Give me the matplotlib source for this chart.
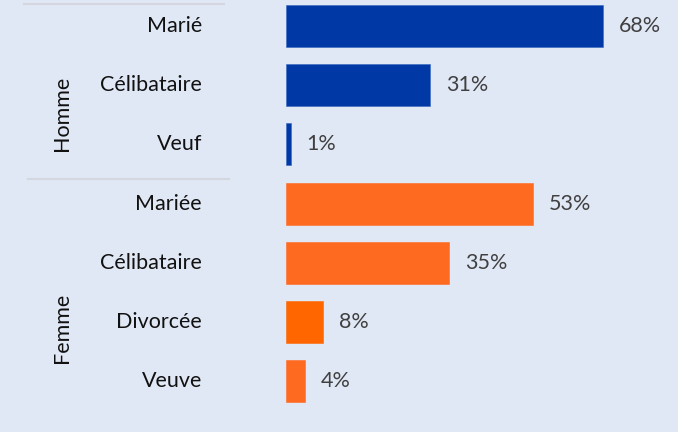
import numpy as np
import matplotlib.pyplot as plt
import matplotlib.transforms as mtransforms

plt.rcParams['font.family'] = ['Lato', 'DejaVu Sans']

categories = ['Marié', 'Célibataire', 'Veuf', 'Mariée', 'Célibataire', 'Divorcée', 'Veuve']
values = [68, 31, 1, 53, 35, 8, 4]
groups = ['Homme', 'Femme']
group_sizes = [3, 4]

blue = '#0039A6'
orange = '#FF6A21'
colors = [blue] * 3 + [orange, orange, '#FF6600', orange]
bg = '#E1E8F5'
fs = 15.5

W, H = 678, 432
fig = plt.figure(figsize=(W / 100, H / 100), dpi=100, facecolor=bg)
ax = fig.add_axes([286 / W, 0, 1 - 286 / W, 1], facecolor=bg)

y = np.arange(len(categories))
ax.barh(y, values, height=0.71, color=colors,
        edgecolor=[('#3565C0' if c == blue else c) for c in colors], linewidth=0.4)

# pixel row centres: 26 + 59.2 * i
ax.set_ylim((H - 26) / 59.2, -26 / 59.2)
ax.set_xlim(0, 392 / 4.66)
ax.axis('off')

for yi, v in zip(y, values):
    ax.annotate(f'{v}%', (v, yi), xytext=(16, 0), textcoords='offset pixels',
                ha='left', va='center', fontsize=fs, color='#404040')

tr = mtransforms.blended_transform_factory(fig.transFigure, ax.transData)
for yi, c in zip(y, categories):
    ax.text(202 / W, yi, c, transform=tr, ha='right', va='center',
            fontsize=fs, color='#111111', clip_on=False)

# group labels and separators
ax.text(62 / W, 1.48, groups[0], transform=tr, rotation=90, ha='center', va='center',
        fontsize=fs, color='#111111', clip_on=False)
ax.text(62 / W, 5.1, groups[1], transform=tr, rotation=90, ha='center', va='center',
        fontsize=fs, color='#111111', clip_on=False)
for yl, x0, x1 in [(-0.37, 24, 224), (group_sizes[0] - 0.41, 28, 229)]:
    ax.plot([x0 / W, x1 / W], [yl, yl], transform=tr, color='#D4D8DE',
            lw=1.5, clip_on=False)

fig.savefig('out.png', dpi=100, facecolor=bg)
